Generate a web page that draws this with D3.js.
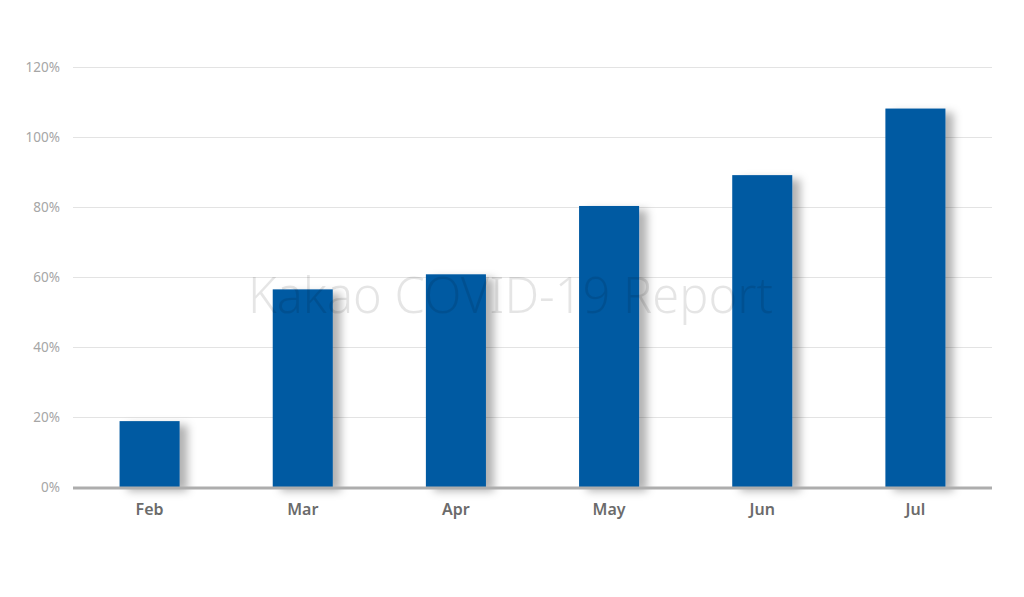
<!DOCTYPE html>
<html><head><meta charset="utf-8">
<script src="https://cdn.jsdelivr.net/npm/d3@7"></script>
<style>
html,body{margin:0;padding:0;background:#fff;}
svg{display:block;font-family:"Noto Sans","Open Sans",sans-serif;}
</style></head>
<body><svg id="c" width="1024" height="597"></svg>
<script>
const categories = ["Feb","Mar","Apr","May","Jun","Jul"];
const values = [18.8, 56.4, 60.7, 80.2, 89.0, 108.0];
const yTicks = [0,20,40,60,80,100,120];
const watermark = "Kakao COVID-19 Report";

const svg = d3.select("#c");
const mLeft = 73, mRight = 992, mTop = 66.5, mBottom = 487;

const x = d3.scaleBand().domain(categories).range([mLeft,mRight]).paddingInner(0.608).paddingOuter(0.304);
const y = d3.scaleLinear().domain([0,120]).range([mBottom, mTop]);

const defs = svg.append("defs");
const f = defs.append("filter").attr("id","sh").attr("x","-30%").attr("y","-30%").attr("width","170%").attr("height","170%");
f.append("feDropShadow").attr("dx",8).attr("dy",4).attr("stdDeviation",4).attr("flood-color","#000").attr("flood-opacity",0.3);

// grid
svg.append("g").selectAll("line").data(yTicks.filter(d=>d>0)).join("line")
  .attr("x1",mLeft).attr("x2",mRight)
  .attr("y1",d=>Math.round(y(d))+0.5).attr("y2",d=>Math.round(y(d))+0.5)
  .attr("stroke","#e3e3e3").attr("stroke-width",1);

// y labels
const ya = svg.append("g").attr("transform",`translate(${mLeft-13},0)`)
  .call(d3.axisLeft(y).tickValues(yTicks).tickFormat(d=>d+"%").tickSize(0).tickPadding(0));
ya.select(".domain").remove();
ya.selectAll("text").attr("fill","#a6a6a6").attr("font-size",13.5).attr("font-family","Noto Sans, sans-serif").attr("dy","0.35em");

// bars
svg.append("g").selectAll("rect").data(values).join("rect")
  .attr("x",(d,i)=>x(categories[i]))
  .attr("width",x.bandwidth())
  .attr("y",d=>y(d))
  .attr("height",d=>mBottom-y(d))
  .attr("fill","#005aa2")
  .attr("filter","url(#sh)");

// baseline
svg.append("line").attr("x1",mLeft).attr("x2",mRight).attr("y1",mBottom+1).attr("y2",mBottom+1)
  .attr("stroke","#adadad").attr("stroke-width",3);

// x labels
const xa = svg.append("g").attr("transform",`translate(0,${mBottom})`)
  .call(d3.axisBottom(x).tickSize(0).tickPadding(17));
xa.select(".domain").remove();
xa.selectAll("text").attr("fill","#6b6b6b").attr("font-size",16).attr("font-weight",600).attr("font-family","Noto Sans, sans-serif").attr("dy","0.71em");

// watermark
svg.append("text").attr("x",248).attr("y",313)
  .attr("text-anchor","start")
  .attr("font-size",50).attr("font-weight",300)
  .attr("textLength",525).attr("lengthAdjust","spacingAndGlyphs")
  .attr("fill","#000").attr("fill-opacity",0.1)
  .text(watermark);
</script></body></html>
